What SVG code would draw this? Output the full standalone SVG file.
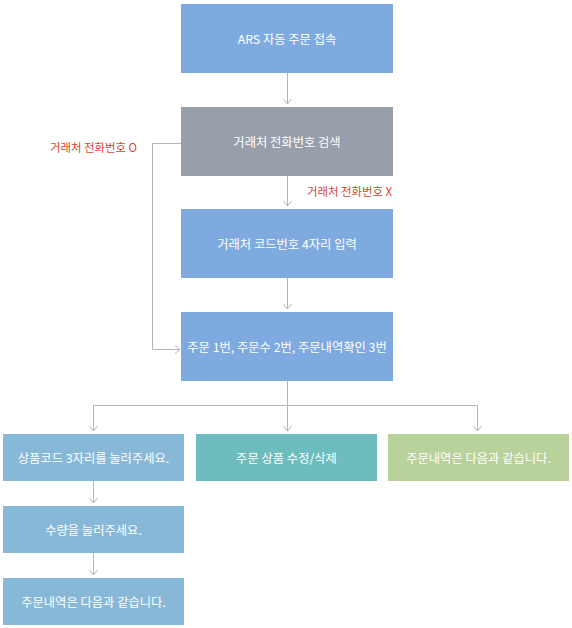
<svg xmlns="http://www.w3.org/2000/svg" width="572" height="628" viewBox="0 0 572 628">
<style>
.t{font-family:"Noto Sans CJK KR","Noto Sans",sans-serif;font-size:12.3px;fill:#ffffff;text-anchor:middle;dominant-baseline:central}
.r{font-family:"Noto Sans CJK KR","Noto Sans",sans-serif;font-size:11.4px;fill:#d9432f;dominant-baseline:central;text-anchor:end}
.c{fill:none;stroke:#b5b5b5;stroke-width:1}
.blue{fill:#7faadf}
.grey{fill:#97a0aa}
.lb{fill:#88b8d8}
.teal{fill:#6dbcbe}
.green{fill:#b9d19b}
</style>
<defs>
<marker id="ah" markerWidth="10" markerHeight="10" refX="8" refY="5" orient="auto" markerUnits="userSpaceOnUse">
<path d="M3,1 L8,5 L3,9" fill="none" stroke="#b5b5b5" stroke-width="1"/>
</marker>
</defs>
<rect width="572" height="628" fill="#ffffff"/>
<g id="connectors">
<path class="c" d="M287.5,73 V104" marker-end="url(#ah)"/>
<path class="c" d="M181,143.5 H152.5 V349.5 H180" marker-end="url(#ah)"/>
<path class="c" d="M287.5,176 V206" marker-end="url(#ah)"/>
<path class="c" d="M287.5,278 V309" marker-end="url(#ah)"/>
<path class="c" d="M287.5,381 V431" marker-end="url(#ah)"/>
<path class="c" d="M93.5,431 V405.5 H477.5 V431" marker-end="url(#ah)"/>
<path class="c" d="M93.5,405.5 V431" marker-end="url(#ah)"/>
<path class="c" d="M93.5,481 V503" marker-end="url(#ah)"/>
<path class="c" d="M93.5,553 V575" marker-end="url(#ah)"/>
<text class="r" x="137" y="147">거래처 전화번호 O</text>
<text class="r" x="392" y="191">거래처 전화번호 X</text>
</g>
<g id="n1"><rect class="blue" x="181" y="4" width="212" height="69"/><text class="t" x="287" y="38.5">ARS 자동 주문 접속</text></g>
<g id="n2"><rect class="grey" x="181" y="107" width="212" height="69"/><text class="t" x="287" y="141.5">거래처 전화번호 검색</text></g>
<g id="n3"><rect class="blue" x="181" y="209" width="212" height="69"/><text class="t" x="287" y="243.5">거래처 코드번호 4자리 입력</text></g>
<g id="n4"><rect class="blue" x="181" y="312" width="212" height="69"/><text class="t" x="287" y="346.5">주문 1번, 주문수 2번, 주문내역확인 3번</text></g>
<g id="n5"><rect class="lb" x="3" y="434" width="181" height="47"/><text class="t" x="93.5" y="457.5">상품코드 3자리를 눌러주세요.</text></g>
<g id="n6"><rect class="teal" x="196" y="434" width="181" height="47"/><text class="t" x="286.5" y="457.5">주문 상품 수정/삭제</text></g>
<g id="n7"><rect class="green" x="388" y="434" width="181" height="47"/><text class="t" x="478.5" y="457.5">주문내역은 다음과 같습니다.</text></g>
<g id="n8"><rect class="lb" x="3" y="506" width="181" height="47"/><text class="t" x="93.5" y="529.5">수량을 눌러주세요.</text></g>
<g id="n9"><rect class="lb" x="3" y="578" width="181" height="47"/><text class="t" x="93.5" y="601.5">주문내역은 다음과 같습니다.</text></g>
</svg>
